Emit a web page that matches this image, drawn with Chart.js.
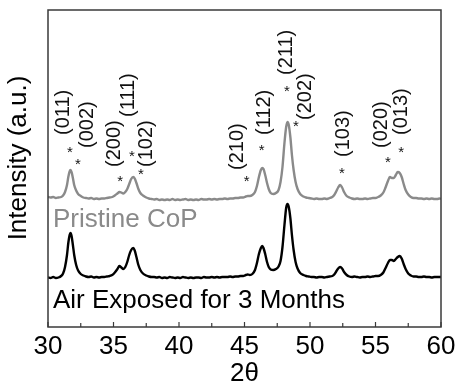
<!DOCTYPE html>
<html>
<head>
<meta charset="utf-8">
<script src="https://cdn.jsdelivr.net/npm/chart.js@4.4.1/dist/chart.umd.min.js"></script>
<style>
  html, body { margin: 0; padding: 0; background: #fff; }
  #wrap { width: 460px; height: 387px; }
</style>
</head>
<body>
<div id="wrap"><canvas id="xrd"></canvas></div>
<script>
// 2-theta grid (degrees), shared by both patterns
const twoTheta = [
    30.0, 30.2, 30.4, 30.6, 30.8,
    31.0, 31.15, 31.3, 31.45, 31.55, 31.65, 31.72, 31.8, 31.9, 32.0,
    32.15, 32.3, 32.5, 32.7, 32.9, 33.1, 33.3, 33.5, 33.7, 33.9, 34.1, 34.3, 34.5, 34.7, 34.9,
    35.1, 35.3, 35.45, 35.6, 35.75, 35.9, 36.05, 36.2, 36.35, 36.5, 36.62, 36.75, 36.9, 37.05,
    37.25, 37.5, 37.7, 37.9, 38.1, 38.3, 38.5, 38.7, 38.9, 39.1, 39.3, 39.5, 39.7, 39.9, 40.1,
    40.3, 40.5, 40.7, 40.9, 41.1, 41.3, 41.5, 41.7, 41.9, 42.1, 42.3, 42.5, 42.7, 42.9, 43.1,
    43.3, 43.5, 43.7, 43.9, 44.1, 44.3, 44.5, 44.7, 44.9,
    45.1, 45.25, 45.4, 45.6, 45.8, 45.95, 46.1, 46.25, 46.35, 46.45, 46.58, 46.72, 46.85, 47.0,
    47.2, 47.4, 47.6, 47.75, 47.9, 48.05, 48.18, 48.28, 48.38, 48.5, 48.62, 48.75, 48.9, 49.05,
    49.25, 49.5, 49.7, 49.9, 50.1, 50.3, 50.5, 50.7, 50.9, 51.1, 51.3, 51.5, 51.7,
    51.85, 52.0, 52.15, 52.3, 52.45, 52.6, 52.8, 53.0,
    53.2, 53.4, 53.6, 53.8, 54.0, 54.2, 54.4, 54.6, 54.8, 55.0, 55.2, 55.4,
    55.6, 55.75, 55.95, 56.1, 56.25, 56.4, 56.55, 56.7, 56.85, 57.0, 57.15, 57.3, 57.5, 57.7, 57.9,
    58.1, 58.3, 58.5, 58.7, 58.9, 59.1, 59.3, 59.5, 59.7, 59.9, 60.0
];

// intensities above each pattern's own baseline (a.u.)
const pristine = [
    3, 2.5, 3, 2, 2.5,
    3, 4.5, 8, 15, 23, 28.5, 30, 28, 22, 15,
    9.5, 6, 4, 2.5, 2, 1.5, 2, 1, 1.5, 1, 1.5, 1.5, 2, 2.5, 3,
    4.5, 6.5, 8, 7.5, 6.5, 8, 11, 16, 21, 23, 21.5, 17, 11, 7,
    4.5, 2.5, 1.5, 1, 0.5, 1, 0, 0.5, 0, 0.5, 0, 1, 0, 0.5, 0,
    0.5, 1, 0, 0.5, 0, 0.5, 0, 1, 0.5, 0.5, 1, 0.5, 1, 0.5, 1,
    1, 1.5, 1, 1.5, 1.5, 2, 2, 2.5, 2.5,
    3.5, 4, 4, 5, 8, 14, 23, 30, 32, 31, 25, 17, 11, 7,
    6, 7, 10, 18, 33, 57, 73, 78, 75, 63, 45, 30, 18, 11,
    6, 3.5, 2.5, 2, 1.5, 1, 1.5, 1, 1, 1.5, 1, 2, 3,
    5, 8.5, 12.5, 15, 12.5, 8, 4, 2.5,
    1.5, 1, 1.5, 1, 1, 1.5, 1, 1.5, 2, 2, 3, 4.5,
    7.5, 12, 19, 23, 22, 22, 25, 28, 27, 23, 16, 10, 5.5, 3, 2,
    2, 1.5, 1.5, 1, 1.5, 1, 1.5, 1, 1, 1.5, 1
];

const airExposed = [
    0.5, 0, 1, 0, 0.5,
    2, 4.5, 11, 23, 35, 43, 45, 42, 33, 23,
    13, 7.5, 4, 2.5, 1.5, 1, 1.5, 0.5, 1, 0.5, 1, 1, 1.5, 2, 3,
    5.5, 9, 12, 10.5, 9, 11, 16, 23, 28, 30, 27.5, 21, 13, 8,
    4.5, 2.5, 1.5, 1, 1, 0.5, 1, 0, 0.5, 0, 1, 0.5, 0, 0.5, 0,
    1, 0.5, 0, 0.5, 0, 0.5, 0.5, 0, 1, 0.5, 0.5, 1, 0.5, 1, 0.5,
    1, 1, 1, 1.5, 1, 1.5, 1.5, 2, 2,
    3, 3.5, 3, 4, 8, 15, 24, 30, 32, 30, 24, 16, 11, 8.5,
    8, 9, 11.5, 17, 31, 53, 70, 74, 71, 60, 43, 28, 16, 9.5,
    5, 3, 2, 1.5, 1, 1, 0.5, 1, 1, 0.5, 1, 1.5, 2,
    3.5, 6.5, 9.5, 11, 9.5, 6, 3, 1.5,
    1, 1.5, 1, 0.5, 1, 1, 1.5, 1, 1.5, 2, 2, 3,
    5.5, 9.5, 15, 18, 18, 17, 19, 21, 22, 19.5, 14, 9, 4.5, 2.5, 1.5,
    1.5, 1, 1, 1.5, 1, 1, 0.5, 1, 1, 1, 1
];

const seriesNames = ['Pristine CoP', 'Air Exposed for 3 Months'];

// reflections marked with an asterisk
const peakHkl = ['(011)', '(002)', '(200)', '(111)', '(102)', '(210)', '(112)', '(211)', '(202)', '(103)', '(020)', '(013)'];
const starTheta = [31.68, 32.29, 35.5, 36.41, 37.1, 45.17, 46.31, 48.24, 48.93, 52.44, 55.95, 56.95];
const starLevel = [179, 167, 150, 175, 157, 150, 181, 240, 205, 158, 169, 179];
const textTheta = [31.22, 32.98, 35.04, 36.18, 37.48, 44.47, 46.5, 48.24, 49.69, 52.52, 55.42, 57.02];
const textLevel = [192, 179, 160, 210, 160, 157, 192, 252, 207, 170, 179, 192];

const offsets = [127, 49];
const lineColors = ['#8a8a8a', '#000000'];
const FONT = "'Liberation Sans', Arial, sans-serif";

function toPoints(values, shift) {
    return twoTheta.map((t, i) => ({x: t, y: values[i] + shift}));
}

const decor = {
    id: 'decor',
    afterDatasetsDraw(chart) {
        const {ctx, chartArea: a, scales: {x, y}} = chart;
        ctx.save();

        // frame
        ctx.strokeStyle = '#3a3a3a';
        ctx.lineWidth = 1.5;
        ctx.strokeRect(a.left, a.top, a.right - a.left, a.bottom - a.top);

        // inward ticks on the bottom axis
        ctx.lineWidth = 1.2;
        for (let t = x.min; t <= x.max; t += 2.5) {
            const px = x.getPixelForValue(t);
            const len = (t % 5 === 0) ? 5 : 4;
            ctx.beginPath();
            ctx.moveTo(px, a.bottom);
            ctx.lineTo(px, a.bottom - len);
            ctx.stroke();
        }

        // y title
        ctx.fillStyle = '#000';
        ctx.font = '26px ' + FONT;
        ctx.textAlign = 'center';
        ctx.textBaseline = 'middle';
        ctx.translate(19, 158);
        ctx.rotate(-Math.PI / 2);
        ctx.fillText('Intensity (a.u.)', 0, 0);
        ctx.setTransform(1, 0, 0, 1, 0, 0);

        // pattern names
        ctx.textAlign = 'left';
        ctx.textBaseline = 'alphabetic';
        ctx.fillStyle = lineColors[0];
        ctx.fillText(seriesNames[0], x.getPixelForValue(30.38), y.getPixelForValue(100));
        ctx.fillStyle = lineColors[1];
        ctx.fillText(seriesNames[1], x.getPixelForValue(30.38), y.getPixelForValue(19));

        // reflection labels
        ctx.fillStyle = '#111';
        peakHkl.forEach((hkl, i) => {
            ctx.font = '15px ' + FONT;
            ctx.textAlign = 'center';
            ctx.textBaseline = 'alphabetic';
            ctx.fillText('*', x.getPixelForValue(starTheta[i]), y.getPixelForValue(starLevel[i]) + 8.5);

            ctx.save();
            ctx.font = '20px ' + FONT;
            ctx.translate(x.getPixelForValue(textTheta[i]), y.getPixelForValue(textLevel[i]));
            ctx.rotate(-Math.PI / 2);
            ctx.textAlign = 'left';
            ctx.textBaseline = 'middle';
            ctx.fillText(hkl, 0, 0);
            ctx.restore();
        });
        ctx.restore();
    }
};

const config = {
    type: 'line',
    data: {
        datasets: [
            {
                label: seriesNames[0],
                data: toPoints(pristine, offsets[0]),
                borderColor: lineColors[0],
                borderWidth: 2.4,
                pointRadius: 0,
                cubicInterpolationMode: 'monotone'
            },
            {
                label: seriesNames[1],
                data: toPoints(airExposed, offsets[1]),
                borderColor: lineColors[1],
                borderWidth: 2.4,
                pointRadius: 0,
                cubicInterpolationMode: 'monotone'
            }
        ]
    },
    options: {
        responsive: true,
        maintainAspectRatio: false,
        animation: false,
        events: [],
        layout: {
            padding: {top: 10, right: 19, left: 0, bottom: 0}
        },
        plugins: {
            legend: {display: false},
            tooltip: {enabled: false}
        },
        scales: {
            x: {
                type: 'linear',
                min: 30,
                max: 60,
                grid: {display: false, drawTicks: false},
                border: {display: false},
                ticks: {
                    stepSize: 5,
                    padding: 4,
                    color: '#000',
                    font: {family: FONT, size: 26}
                },
                title: {
                    display: true,
                    text: '2θ',
                    color: '#000',
                    padding: 0,
                    font: {family: FONT, size: 26, lineHeight: 1}
                },
                afterFit(scale) {
                    scale.height = 60;
                    scale.paddingLeft = 0;
                    scale.paddingRight = 0;
                }
            },
            y: {
                min: 0,
                max: 317,
                grid: {display: false, drawTicks: false},
                border: {display: false},
                ticks: {display: false},
                afterFit(scale) {
                    scale.width = 48;
                }
            }
        }
    },
    plugins: [decor]
};

const chart = new Chart(document.getElementById('xrd').getContext('2d'), config);
</script>
</body>
</html>
